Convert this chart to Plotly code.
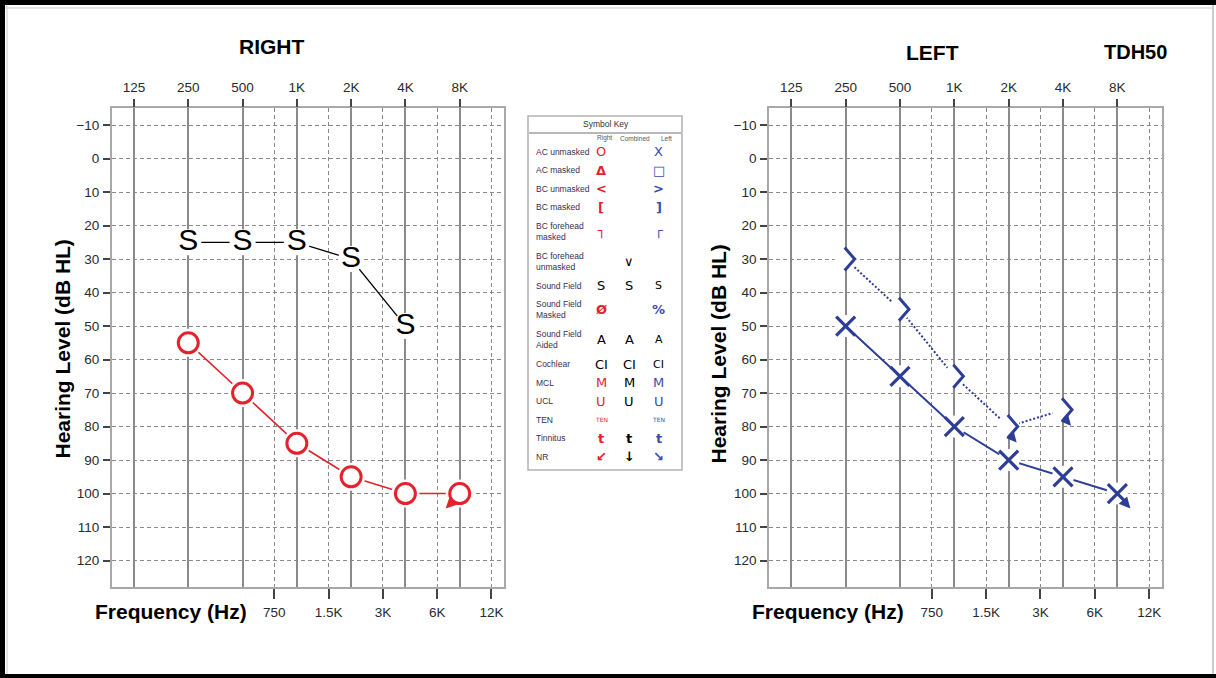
import numpy as np
import plotly.graph_objects as go

W, H = 1216, 678

# ---------------- data ----------------
octave_freqs = [125, 250, 500, 1000, 2000, 4000, 8000]
octave_labels = ["125", "250", "500", "1K", "2K", "4K", "8K"]
mid_freqs = [750, 1500, 3000, 6000, 12000]
mid_labels = ["750", "1.5K", "3K", "6K", "12K"]
hl_ticks = [-10, 0, 10, 20, 30, 40, 50, 60, 70, 80, 90, 100, 110, 120]
hl_labels = ["\u221210", "0", "10", "20", "30", "40", "50", "60", "70", "80", "90", "100", "110", "120"]

# Right ear - air conduction unmasked (O)
right_ac_freq = [250, 500, 1000, 2000, 4000, 8000]
right_ac_db = [55, 70, 85, 95, 100, 100]
right_ac_nr = [0, 0, 0, 0, 0, 1]

# Sound field (S)
sf_freq = [250, 500, 1000, 2000, 4000]
sf_db = [25, 25, 25, 30, 50]

# Left ear - air conduction unmasked (X)
left_ac_freq = [250, 500, 1000, 2000, 4000, 8000]
left_ac_db = [50, 65, 80, 90, 95, 100]
left_ac_nr = [0, 0, 0, 0, 0, 1]

# Left ear - bone conduction unmasked (>)
left_bc_freq = [250, 500, 1000, 2000, 4000]
left_bc_db = [30, 45, 65, 80, 75]
left_bc_nr = [0, 0, 0, 1, 1]

# Symbol key
key_labels = ["AC unmasked", "AC masked", "BC unmasked", "BC masked", "BC forehead<br>masked",
              "BC forehead<br>unmasked", "Sound Field", "Sound Field<br>Masked", "Sound Field<br>Aided",
              "Cochlear", "MCL", "UCL", "TEN", "Tinnitus", "NR"]
key_right = ["O", "\u0394", "<", "[", "\u2510", "", "S", "\u00d8", "A", "CI", "M", "U", "TEN", "t", "\u2199"]
key_combined = ["", "", "", "", "", "\u2228", "S", "", "A", "CI", "M", "U", "", "t", "\u2193"]
key_left = ["X", "\u25a1", ">", "]", "\u250c", "", "S", "%", "A", "CI", "M", "U", "TEN", "t", "\u2198"]
key_mono_rows = ["Sound Field", "Sound Field<br>Aided", "Cochlear"]

# ---------------- styling helpers ----------------
RED = "#E5222B"
BLUE = "#2D3E97"
KEY_BLUE = "#3A4CAA"
GRID = "#8A8A8A"
FRAME = "#A8A8A8"
TICKFONT = dict(family="Liberation Sans Narrow, Liberation Sans, Arial", size=13.5, color="#2A2A2A")
BOLD = "Liberation Sans, Arial, sans-serif"


def px(x):
    return x / W


def py(y):
    return 1 - y / H


def oc(f):
    return list(np.log2(np.asarray(f, dtype=float)))


XR = [float(np.log2(125) - 0.405), float(np.log2(8000) + 0.816)]
YR = [127.9, -15.1]
DOM_Y = [py(587), py(108)]
DOM_R = [px(112), px(504)]
DOM_L = [px(769.3), px(1161.7)]


def bottom_axis(domain, anchor):
    return dict(domain=domain, anchor=anchor, range=XR, tickmode="array",
                tickvals=oc(mid_freqs), ticktext=mid_labels, ticks="outside", ticklen=10,
                tickwidth=1.5, tickcolor="#444", showgrid=True, gridcolor=GRID, gridwidth=1.3,
                griddash="4px,3px", showline=True, linecolor=FRAME, linewidth=2, mirror=True,
                zeroline=False, tickfont=TICKFONT, fixedrange=True, ticklabelstandoff=2)


def top_axis(overlay, anchor):
    return dict(overlaying=overlay, anchor=anchor, side="top", range=XR, tickmode="array",
                tickvals=oc(octave_freqs), ticktext=octave_labels, ticks="outside", ticklen=8,
                tickwidth=1.5, tickcolor="#444", showgrid=True, gridcolor=GRID, gridwidth=1.6,
                showline=False, zeroline=False, tickfont=TICKFONT, fixedrange=True,
                ticklabelstandoff=2)


def y_axis(anchor):
    return dict(domain=DOM_Y, anchor=anchor, range=YR, tickmode="array", tickvals=hl_ticks,
                ticktext=hl_labels, ticks="outside", ticklen=7, tickwidth=1.5, tickcolor="#444",
                showgrid=True, gridcolor=GRID, gridwidth=1.3, griddash="4px,3px", showline=True,
                linecolor=FRAME, linewidth=2, mirror=True, zeroline=False, tickfont=TICKFONT,
                fixedrange=True, ticklabelstandoff=1)


fig = go.Figure()

# ---- RIGHT ear chart (x / x2 / y) ----
fig.add_trace(go.Scatter(x=oc(octave_freqs), y=[None] * len(octave_freqs), xaxis="x2", yaxis="y",
                         mode="markers", showlegend=False, hoverinfo="skip"))
fig.add_trace(go.Scatter(x=oc(sf_freq), y=sf_db, xaxis="x", yaxis="y", mode="lines+markers+text",
                         line=dict(color="black", width=1.3),
                         marker=dict(symbol="circle", size=26, color="white", line=dict(width=0)),
                         text=["S"] * len(sf_freq), textposition="middle center",
                         textfont=dict(family="Liberation Sans, Arial", size=30, color="black"),
                         showlegend=False, hoverinfo="skip"))
fig.add_trace(go.Scatter(x=oc(right_ac_freq), y=right_ac_db, xaxis="x", yaxis="y", mode="lines",
                         line=dict(color=RED, width=1.6), showlegend=False, hoverinfo="skip"))
fig.add_trace(go.Scatter(x=oc(right_ac_freq), y=right_ac_db, xaxis="x", yaxis="y", mode="markers",
                         marker=dict(symbol="circle", size=28, color="white", line=dict(width=0)),
                         showlegend=False, hoverinfo="skip"))
fig.add_trace(go.Scatter(x=oc(right_ac_freq), y=right_ac_db, xaxis="x", yaxis="y", mode="markers",
                         marker=dict(symbol="circle", size=20, color="white",
                                     line=dict(color=RED, width=3)),
                         showlegend=False, hoverinfo="skip"))

# ---- LEFT ear chart (x3 / x4 / y2) ----
fig.add_trace(go.Scatter(x=oc(octave_freqs), y=[None] * len(octave_freqs), xaxis="x4", yaxis="y2",
                         mode="markers", showlegend=False, hoverinfo="skip"))
fig.add_trace(go.Scatter(x=oc(left_bc_freq), y=left_bc_db, xaxis="x3", yaxis="y2", mode="lines",
                         line=dict(color=BLUE, width=2, dash="2px,2px"), showlegend=False,
                         hoverinfo="skip"))
fig.add_trace(go.Scatter(x=oc(left_bc_freq), y=left_bc_db, xaxis="x3", yaxis="y2", mode="markers",
                         marker=dict(symbol="circle", size=22, color="white", line=dict(width=0)),
                         showlegend=False, hoverinfo="skip"))
fig.add_trace(go.Scatter(x=oc(left_ac_freq), y=left_ac_db, xaxis="x3", yaxis="y2", mode="lines",
                         line=dict(color=BLUE, width=2), showlegend=False, hoverinfo="skip"))
fig.add_trace(go.Scatter(x=oc(left_ac_freq), y=left_ac_db, xaxis="x3", yaxis="y2", mode="markers",
                         marker=dict(symbol="circle", size=22, color="white", line=dict(width=0)),
                         showlegend=False, hoverinfo="skip"))
fig.add_trace(go.Scatter(x=oc(left_ac_freq), y=left_ac_db, xaxis="x3", yaxis="y2", mode="markers",
                         marker=dict(symbol="x-thin-open", size=19, color=BLUE,
                                     line=dict(color=BLUE, width=3.2)),
                         showlegend=False, hoverinfo="skip"))

shapes = []
# bone conduction chevrons ">"
for f, d in zip(left_bc_freq, left_bc_db):
    shapes.append(dict(type="path", xref="x3", yref="y2", xsizemode="pixel", ysizemode="pixel",
                       xanchor=float(np.log2(f)), yanchor=d, path="M-1,11.5 L9,0 L-1,-11.5",
                       line=dict(color=BLUE, width=3)))

annotations = []


def nr_arrow(xref, yref, f, d, color, ax, ay, xs, ys, w=2.5):
    annotations.append(dict(x=float(np.log2(f)), y=d, xref=xref, yref=yref, text="",
                            showarrow=True, arrowhead=2, arrowsize=0.9, arrowwidth=w,
                            arrowcolor=color, ax=ax, ay=ay, xshift=xs, yshift=ys, standoff=0))


for f, d, nr in zip(right_ac_freq, right_ac_db, right_ac_nr):
    if nr:
        nr_arrow("x", "y", f, d, RED, 7, -7, -14, -15)
for f, d, nr in zip(left_ac_freq, left_ac_db, left_ac_nr):
    if nr:
        nr_arrow("x3", "y2", f, d, BLUE, -8, -9, 13, -15)
for f, d, nr in zip(left_bc_freq, left_bc_db, left_bc_nr):
    if nr:
        nr_arrow("x3", "y2", f, d, BLUE, -7, -8, 8, -16, w=2.2)

# titles
annotations += [
    dict(text="<b>RIGHT</b>", x=px(272), y=py(46.5), xref="paper", yref="paper", showarrow=False,
         font=dict(family=BOLD, size=21, color="black"), xanchor="center", yanchor="middle"),
    dict(text="<b>LEFT</b>", x=px(932), y=py(52.5), xref="paper", yref="paper", showarrow=False,
         font=dict(family=BOLD, size=21, color="black"), xanchor="center", yanchor="middle"),
    dict(text="<b>TDH50</b>", x=px(1135), y=py(52.5), xref="paper", yref="paper", showarrow=False,
         font=dict(family=BOLD, size=20, color="black"), xanchor="center", yanchor="middle"),
    dict(text="<b>Frequency (Hz)</b>", x=px(93), y=py(611), xref="paper", yref="paper",
         showarrow=False, font=dict(family=BOLD, size=21, color="black"), xanchor="left",
         yanchor="middle"),
    dict(text="<b>Frequency (Hz)</b>", x=px(750), y=py(611), xref="paper", yref="paper",
         showarrow=False, font=dict(family=BOLD, size=21, color="black"), xanchor="left",
         yanchor="middle"),
    dict(text="<b>Hearing Level (dB HL)</b>", x=px(62), y=py(349.5), xref="paper", yref="paper",
         showarrow=False, textangle=-90, font=dict(family=BOLD, size=21, color="black"),
         xanchor="center", yanchor="middle"),
    dict(text="<b>Hearing Level (dB HL)</b>", x=px(718), y=py(354.5), xref="paper", yref="paper",
         showarrow=False, textangle=-90, font=dict(family=BOLD, size=21, color="black"),
         xanchor="center", yanchor="middle"),
]

# ---- symbol key ----
shapes.append(dict(type="rect", xref="paper", yref="paper", x0=px(528), x1=px(682), y0=py(470),
                   y1=py(116), line=dict(color="#B3B3B3", width=1.5), fillcolor="white"))
shapes.append(dict(type="line", xref="paper", yref="paper", x0=px(529), x1=px(681), y0=py(133),
                   y1=py(133), line=dict(color="#A0A0A0", width=1.5)))
KEYFONT = "Liberation Sans Narrow, Liberation Sans, Arial"
annotations.append(dict(text="Symbol Key", x=px(606), y=py(124), xref="paper", yref="paper",
                        showarrow=False, font=dict(family=KEYFONT, size=8.5, color="#333"),
                        xanchor="center", yanchor="middle"))
for name, cx in zip(["Right", "Combined", "Left"], [604, 635, 666.5]):
    annotations.append(dict(text=name, x=px(cx), y=py(138.5), xref="paper", yref="paper",
                            showarrow=False, font=dict(family=KEYFONT, size=6.5, color="#555"),
                            xanchor="center", yanchor="middle"))

row_h = [30 if "<br>" in lab else 18.5 for lab in key_labels]
centers = [151.7]
for i in range(1, len(key_labels)):
    centers.append(centers[-1] + (row_h[i - 1] + row_h[i]) / 2)

for lab, yc, sr, sc, sl in zip(key_labels, centers, key_right, key_combined, key_left):
    annotations.append(dict(text=lab, x=px(534), y=py(yc), xref="paper", yref="paper",
                            showarrow=False, align="left",
                            font=dict(family=KEYFONT, size=8.5, color="#352F55"),
                            xanchor="left", yanchor="middle"))
    mono = lab in key_mono_rows
    for sym, cx, col in [(sr, 601, RED), (sc, 629, "black"), (sl, 658.5, KEY_BLUE)]:
        if not sym:
            continue
        size = 13
        weight = "normal"
        if sym == "TEN":
            size = 6
        if cx == 658.5 and sym in ("S", "A", "CI"):
            size = 11
        if sym in ("<", ">", "[", "]", "\u0394", "\u25a1", "t", "\u2199", "\u2198", "\u2193",
                   "\u2510", "\u250c", "\u00d8", "%"):
            weight = "bold"
        annotations.append(dict(text=sym, x=px(cx), y=py(yc), xref="paper", yref="paper",
                                showarrow=False,
                                font=dict(family="DejaVu Sans, Liberation Sans", size=size,
                                          weight=weight, color="black" if mono else col),
                                xanchor="center", yanchor="middle"))

# ---- outer border ----
shapes += [
    dict(type="rect", xref="paper", yref="paper", x0=0, x1=1, y0=py(5), y1=1,
         fillcolor="black", line=dict(width=0)),
    dict(type="rect", xref="paper", yref="paper", x0=0, x1=px(5), y0=0, y1=1,
         fillcolor="black", line=dict(width=0)),
    dict(type="rect", xref="paper", yref="paper", x0=0, x1=1, y0=0, y1=py(674),
         fillcolor="black", line=dict(width=0)),
    dict(type="line", xref="paper", yref="paper", x0=px(1213), x1=px(1213), y0=py(674), y1=py(5),
         line=dict(color="#BBBBBB", width=1.5)),
    dict(type="line", xref="paper", yref="paper", x0=px(7), x1=px(7), y0=py(674), y1=py(5),
         line=dict(color="#CCCCCC", width=1)),
    dict(type="line", xref="paper", yref="paper", x0=px(5), x1=px(1213), y0=py(8), y1=py(8),
         line=dict(color="#CCCCCC", width=1)),
]

fig.update_layout(
    width=W, height=H, margin=dict(l=0, r=0, t=0, b=0),
    paper_bgcolor="white", plot_bgcolor="white", showlegend=False,
    xaxis=bottom_axis(DOM_R, "y"),
    xaxis2=top_axis("x", "y"),
    yaxis=y_axis("x"),
    xaxis3=bottom_axis(DOM_L, "y2"),
    xaxis4=top_axis("x3", "y2"),
    yaxis2=y_axis("x3"),
    shapes=shapes,
    annotations=annotations,
)

fig.write_html("out.html", config={"displayModeBar": False},
               post_script="document.body.style.margin='0px';document.body.style.overflow='hidden';")
